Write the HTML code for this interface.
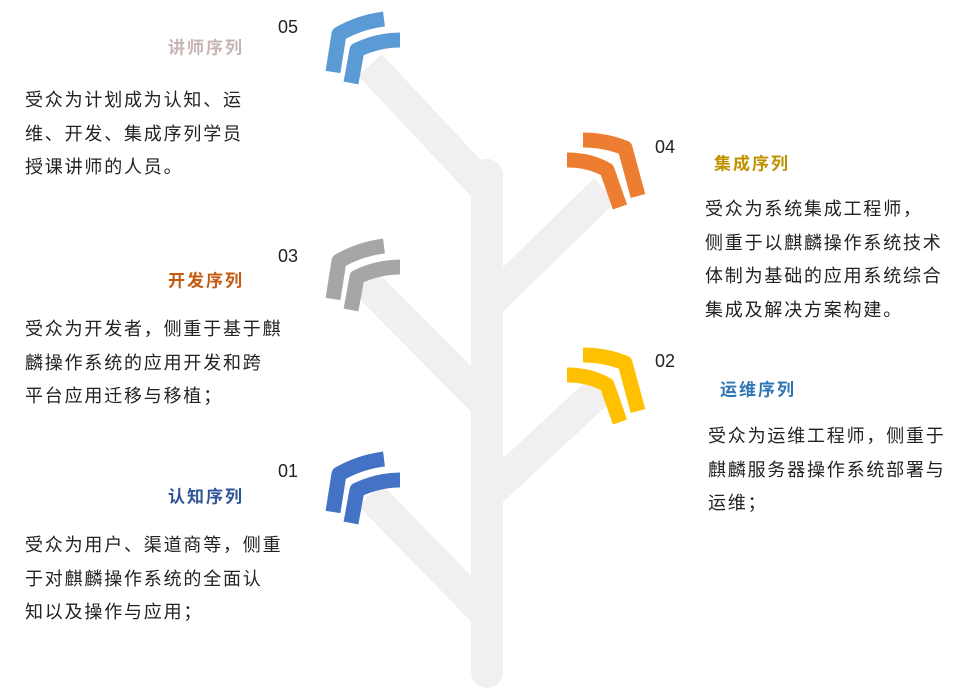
<!DOCTYPE html><html><head><meta charset="utf-8"><style>
body{margin:0;width:961px;height:694px;background:#fff;position:relative;overflow:hidden;font-family:"Liberation Sans","Noto Sans CJK SC",sans-serif;}
.t{position:absolute;font-size:17px;letter-spacing:2px;font-weight:bold;transform:translate(-50%,-50%);white-space:nowrap}
.b{position:absolute;font-size:18px;letter-spacing:1.8px;color:#222;line-height:33.5px;white-space:nowrap}
.n{position:absolute;font-size:18px;color:#222}
svg{position:absolute;left:0;top:0}
</style></head><body>
<svg width="961" height="694">
<g stroke="#f1efef" stroke-width="32" fill="none">
<line x1="487" y1="175" x2="487" y2="672" stroke-linecap="round"/>
<line x1="370" y1="65" x2="487" y2="190"/>
<line x1="365" y1="282" x2="487" y2="405"/>
<line x1="370" y1="495" x2="487" y2="615"/>
<line x1="605" y1="190" x2="487" y2="305"/>
<line x1="600" y1="390" x2="487" y2="495"/>
</g>
<defs>
<g id="L" fill="none" stroke-width="15" stroke-linejoin="round">
<path d="M333,72 L339,34 Q360,22 384,19"/>
<path d="M351,83 L357,50 Q378,40 400,40"/>
</g>
<g id="R" fill="none" stroke-width="15" stroke-linejoin="round">
<path d="M583,140 Q605,140 625,148 L638,196"/>
<path d="M567,160 Q590,160 607,170 L620,207"/>
</g>
</defs>
<use href="#L" stroke="#5b9bd5"/>
<use href="#L" stroke="#a6a6a6" transform="translate(0,227)"/>
<use href="#L" stroke="#4472c4" transform="translate(0,440)"/>
<use href="#R" stroke="#ed7d31"/>
<use href="#R" stroke="#ffc000" transform="translate(0,215)"/>
</svg>
<div class="n" style="left:278px;top:17px">05</div>
<div class="n" style="left:278px;top:246px">03</div>
<div class="n" style="left:278px;top:461px">01</div>
<div class="n" style="left:655px;top:137px">04</div>
<div class="n" style="left:655px;top:351px">02</div>
<div class="t" style="left:206px;top:46px;color:#c8b4b4">讲师序列</div>
<div class="t" style="left:206px;top:279px;color:#c55a11">开发序列</div>
<div class="t" style="left:206px;top:495px;color:#2f5597">认知序列</div>
<div class="t" style="left:752px;top:162px;color:#bf9000">集成序列</div>
<div class="t" style="left:758px;top:388px;color:#2e75b6">运维序列</div>
<div class="b" style="left:25px;top:84px">受众为计划成为认知、运<br>维、开发、集成序列学员<br>授课讲师的人员。</div>
<div class="b" style="left:25px;top:313px">受众为开发者，侧重于基于麒<br>麟操作系统的应用开发和跨<br>平台应用迁移与移植；</div>
<div class="b" style="left:25px;top:529px">受众为用户、渠道商等，侧重<br>于对麒麟操作系统的全面认<br>知以及操作与应用；</div>
<div class="b" style="left:705px;top:193px">受众为系统集成工程师，<br>侧重于以麒麟操作系统技术<br>体制为基础的应用系统综合<br>集成及解决方案构建。</div>
<div class="b" style="left:708px;top:420px">受众为运维工程师，侧重于<br>麒麟服务器操作系统部署与<br>运维；</div>
</body></html>
